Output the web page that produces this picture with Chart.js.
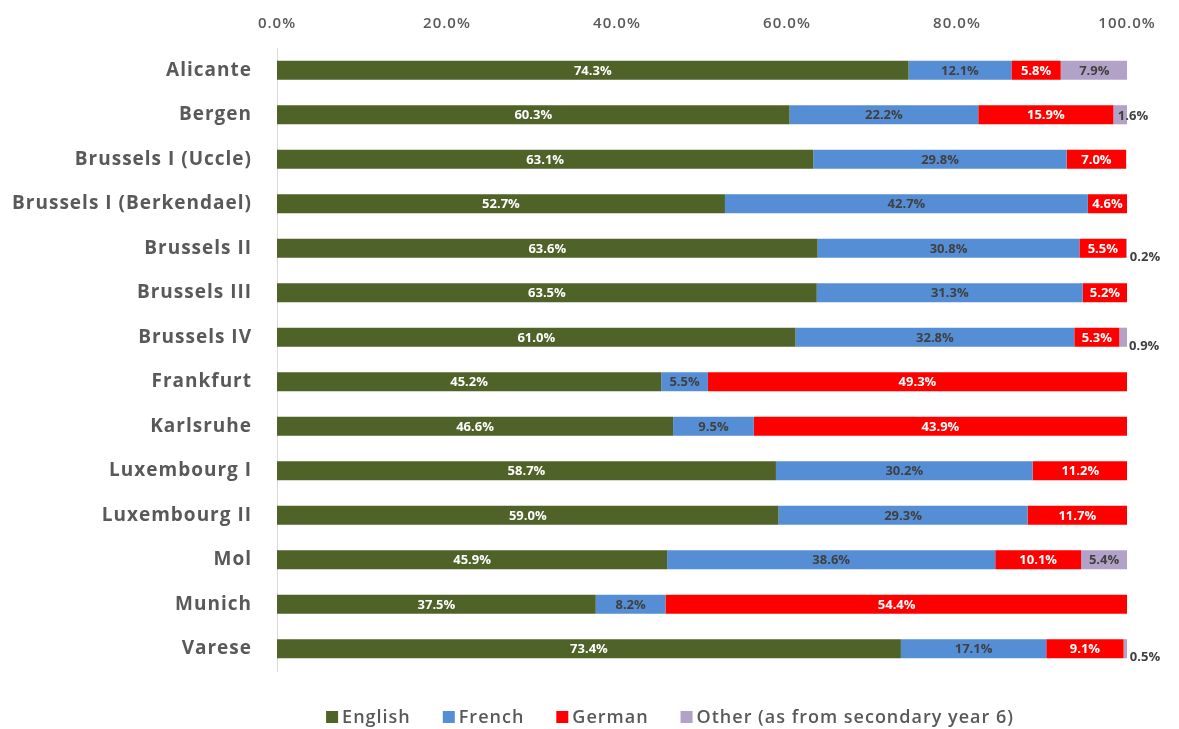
<!DOCTYPE html>
<html><head><meta charset="utf-8">
<script src="https://cdn.jsdelivr.net/npm/chart.js@4/dist/chart.umd.min.js"></script>
<style>html,body{margin:0;padding:0;background:#fff}#wrap{width:1179px;height:729px}</style>
</head><body><div id="wrap"><canvas id="c" width="1179" height="729"></canvas></div>
<script>
const categories = ["Alicante","Bergen","Brussels I (Uccle)","Brussels I (Berkendael)","Brussels II","Brussels III","Brussels IV","Frankfurt","Karlsruhe","Luxembourg I","Luxembourg II","Mol","Munich","Varese"];
const english = [74.3,60.3,63.1,52.7,63.6,63.5,61.0,45.2,46.6,58.7,59.0,45.9,37.5,73.4];
const french  = [12.1,22.2,29.8,42.7,30.8,31.3,32.8,5.5,9.5,30.2,29.3,38.6,8.2,17.1];
const german  = [5.8,15.9,7.0,4.6,5.5,5.2,5.3,49.3,43.9,11.2,11.7,10.1,54.4,9.1];
const other   = [7.9,1.6,0,0,0.2,0,0.9,0,0,0,0,5.4,0,0.5];
const seriesNames = ["English","French","German","Other (as from secondary year 6)"];
const xTicks = [0,20,40,60,80,100];

const FONT = "'Open Sans', Lato, sans-serif";
const GRAY = "#595959";

const spacingPlugin = {
  id: 'spacing',
  beforeDraw(chart) { chart.ctx.letterSpacing = '1px'; },
  beforeDatasetsDraw(chart) { chart.ctx.letterSpacing = '0px'; }
};

const labelPlugin = {
  id: 'barLabels',
  afterDatasetsDraw(chart) {
    const ctx = chart.ctx;
    ctx.save();
    ctx.letterSpacing = '0px';
    ctx.font = "bold 13px " + FONT;
    ctx.textBaseline = 'middle';
    chart.data.datasets.forEach((ds, di) => {
      const meta = chart.getDatasetMeta(di);
      meta.data.forEach((bar, i) => {
        const v = ds.data[i];
        if (!v) return;
        const txt = v.toFixed(1) + '%';
        ctx.fillStyle = ds.labelColor;
        if (v < 1) {
          ctx.fillStyle = "#404040";
          ctx.textAlign = 'left';
          ctx.fillText(txt, bar.x + 2, bar.y + 9);
        } else if (v < 2) {
          ctx.textAlign = 'center';
          ctx.fillStyle = "#404040";
          ctx.fillText(txt, bar.x + 6, bar.y + 2);
        } else {
          ctx.textAlign = 'center';
          ctx.fillText(txt, (bar.x + bar.base) / 2, bar.y + 1);
        }
      });
    });
    ctx.restore();
  }
};

const legendPlugin = {
  id: 'customLegend',
  afterDraw(chart) {
    const ctx = chart.ctx;
    ctx.save();
    ctx.letterSpacing = '1px';
    ctx.font = "600 18px " + FONT;
    ctx.textBaseline = 'middle';
    ctx.textAlign = 'left';
    const box = 12, gapText = 4, gapItem = 32;
    const items = chart.data.datasets.map(ds => ({ text: ds.label, color: ds.backgroundColor, w: ctx.measureText(ds.label).width }));
    const total = items.reduce((s, it) => s + box + gapText + it.w, 0) + gapItem * (items.length - 1);
    let x = 670 - total / 2;
    const y = 717;
    items.forEach(it => {
      ctx.fillStyle = it.color;
      ctx.fillRect(x, y - box / 2, box, box);
      ctx.fillStyle = GRAY;
      ctx.fillText(it.text, x + box + gapText, y + 1);
      x += box + gapText + it.w + gapItem;
    });
    ctx.restore();
  }
};

new Chart(document.getElementById('c'), {
  type: 'bar',
  data: {
    labels: categories,
    datasets: [
      {label: seriesNames[0], data: english, backgroundColor: '#4F6228', labelColor: '#ffffff'},
      {label: seriesNames[1], data: french, backgroundColor: '#558ED5', labelColor: '#404040'},
      {label: seriesNames[2], data: german, backgroundColor: '#FF0000', labelColor: '#ffffff'},
      {label: seriesNames[3], data: other, backgroundColor: '#B3A2C7', labelColor: '#404040'}
    ]
  },
  options: {
    indexAxis: 'y',
    responsive: false,
    animation: false,
    datasets: { bar: { barPercentage: 0.43, categoryPercentage: 1.0 } },
    layout: { padding: { left: 0, right: 52, top: 0, bottom: 58 } },
    scales: {
      x: {
        position: 'top', stacked: true, min: 0, max: 100,
        afterBuildTicks(s) { s.ticks = xTicks.map(v => ({value: v})); },
        afterFit(s) { s.height = 48; },
        grid: { display: false, drawTicks: false },
        border: { display: false },
        ticks: { padding: 15, color: GRAY, font: { family: FONT, size: 15, weight: '600' },
                 callback: v => v.toFixed(1) + '%' }
      },
      y: {
        stacked: true,
        afterFit(s) { s.width = 277; },
        grid: { display: false, drawTicks: false },
        border: { display: true, color: '#D9D9D9', width: 1 },
        ticks: { padding: 25, color: GRAY, font: { family: FONT, size: 19, weight: 'bold' } }
      }
    },
    plugins: {
      legend: { display: false },
      tooltip: { enabled: false }
    }
  },
  plugins: [spacingPlugin, labelPlugin, legendPlugin]
});
</script></body></html>
